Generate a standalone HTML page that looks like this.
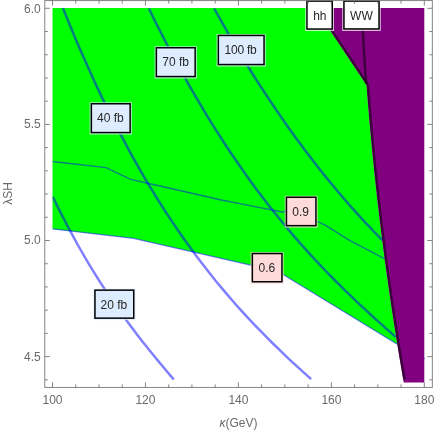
<!DOCTYPE html>
<html><head><meta charset="utf-8"><style>html,body{margin:0;padding:0;background:#fff;}svg{display:block;will-change:transform;}text{font-family:"Liberation Sans",sans-serif;}</style></head><body>
<svg width="436" height="433" viewBox="0 0 436 433">
<rect width="436" height="433" fill="#fff"/>
<polygon fill="#00ff00" points="52.50,8.00 315.14,8.00 366.50,85.00 367.11,93.00 367.99,103.93 368.90,114.85 369.85,125.78 370.85,136.70 371.88,147.63 372.95,158.56 374.07,169.48 375.22,180.41 376.41,191.33 377.64,202.26 378.92,213.19 380.23,224.11 381.58,235.04 382.97,245.97 384.41,256.89 385.88,267.82 387.39,278.74 388.94,289.67 390.53,300.60 392.16,311.52 393.83,322.45 395.55,333.37 397.30,344.30 277.80,271.30 133.50,238.30 52.50,228.90"/>
<polygon fill="#800080" points="315.14,8.00 366.50,85.00 367.11,93.00 367.99,103.93 368.90,114.85 369.85,125.78 370.85,136.70 371.88,147.63 372.95,158.56 374.07,169.48 375.22,180.41 376.41,191.33 377.64,202.26 378.92,213.19 380.23,224.11 381.58,235.04 382.97,245.97 384.41,256.89 385.88,267.82 387.39,278.74 388.94,289.67 390.53,300.60 392.16,311.52 393.83,322.45 395.55,333.37 397.30,344.30 398.23,350.00 399.57,358.15 400.94,366.30 402.34,374.45 403.75,382.60 424.30,382.60 424.30,8.00"/>
<clipPath id="pc"><rect x="52.5" y="8" width="371.8" height="380"/></clipPath><g clip-path="url(#pc)">
<path d="M52.5 228.9 L133.5 238.3 L277.8 271.3 L397.3 344.3" fill="none" stroke="#0000ff" stroke-width="1.3" stroke-opacity="0.5" />
<path d="M52.5 161.5 L106.0 167.6 L130.5 179.4 L160.0 186.0 L221.3 200.0 L250.0 205.6 L283.3 212.2 L285.7 210.3" fill="none" stroke="#0000ff" stroke-width="1.3" stroke-opacity="0.5" />
<path d="M316.7 221.0 L326.0 225.6 L350.0 240.6 L384.9 258.8" fill="none" stroke="#0000ff" stroke-width="1.3" stroke-opacity="0.5" />
<path d="M52.8 196.8 L55.9 203.1 L59.0 209.4 L62.1 215.5 L65.2 221.5 L68.3 227.4 L71.4 233.2 L74.5 238.9 L77.6 244.5 L80.7 250.0 L83.8 255.3 L86.9 260.6 L90.0 265.8 L93.1 270.9 L96.2 275.9 L99.3 280.8 L102.4 285.6 L105.5 290.3 L108.6 295.0 L111.7 299.6 L114.9 304.1 L118.0 308.6 L121.1 312.9 L124.2 317.2 L127.3 321.5 L130.4 325.7 L133.5 329.8 L136.6 333.9 L139.7 337.9 L142.8 341.9 L145.9 345.8 L149.0 349.7 L152.1 353.5 L155.2 357.3 L158.3 361.1 L161.4 364.8 L164.5 368.5 L167.6 372.2 L170.7 375.9 L173.8 379.5" fill="none" stroke="#0000ff" stroke-width="2.5" stroke-opacity="0.5" stroke-linejoin="round"/>
<path d="M62.9 8.0 L69.3 23.7 L75.6 38.9 L82.0 53.7 L88.4 68.1 L94.7 82.0 L101.1 95.6 L107.4 108.7 L113.8 121.4 L120.2 133.7 L126.5 145.7 L132.9 157.3 L139.3 168.6 L145.6 179.6 L152.0 190.2 L158.4 200.5 L164.7 210.4 L171.1 220.1 L177.5 229.6 L183.8 238.7 L190.2 247.6 L196.5 256.2 L202.9 264.6 L209.3 272.7 L215.6 280.7 L222.0 288.4 L228.4 295.9 L234.7 303.2 L241.1 310.3 L247.5 317.3 L253.8 324.1 L260.2 330.7 L266.6 337.2 L272.9 343.5 L279.3 349.7 L285.6 355.8 L292.0 361.8 L298.4 367.7 L304.7 373.4 L311.1 379.1" fill="none" stroke="#0000ff" stroke-width="2.5" stroke-opacity="0.5" stroke-linejoin="round"/>
<path d="M148.9 8.6 L155.2 21.5 L161.6 34.0 L167.9 46.3 L174.2 58.2 L180.6 69.9 L186.9 81.3 L193.2 92.4 L199.6 103.2 L205.9 113.8 L212.2 124.1 L218.6 134.2 L224.9 144.0 L231.2 153.5 L237.6 162.8 L243.9 171.9 L250.2 180.8 L256.6 189.4 L262.9 197.8 L269.2 206.0 L275.6 214.0 L281.9 221.8 L288.2 229.4 L294.6 236.9 L300.9 244.1 L307.2 251.2 L313.6 258.1 L319.9 264.9 L326.2 271.5 L332.6 278.0 L338.9 284.4 L345.2 290.6 L351.6 296.7 L357.9 302.8 L364.2 308.7 L370.6 314.5 L376.9 320.3 L383.2 325.9 L389.6 331.6 L395.9 337.1" fill="none" stroke="#0000ff" stroke-width="2.5" stroke-opacity="0.5" stroke-linejoin="round"/>
<path d="M214.2 8.5 L218.5 16.2 L222.8 23.9 L227.1 31.4 L231.5 38.9 L235.8 46.2 L240.1 53.4 L244.4 60.5 L248.7 67.5 L253.0 74.5 L257.3 81.3 L261.6 88.0 L266.0 94.6 L270.3 101.1 L274.6 107.5 L278.9 113.9 L283.2 120.1 L287.5 126.2 L291.8 132.3 L296.1 138.3 L300.5 144.1 L304.8 149.9 L309.1 155.6 L313.4 161.2 L317.7 166.8 L322.0 172.2 L326.3 177.6 L330.6 182.8 L335.0 188.0 L339.3 193.2 L343.6 198.2 L347.9 203.2 L352.2 208.1 L356.5 212.9 L360.8 217.7 L365.1 222.3 L369.5 226.9 L373.8 231.5 L378.1 235.9 L382.4 240.3" fill="none" stroke="#0000ff" stroke-width="2.5" stroke-opacity="0.5" stroke-linejoin="round"/>
</g>
<path d="M316.2 7.3 L366.9 83.3 L367.8 84.9 L368.6 95.1 L369.4 105.2 L370.3 115.4 L371.1 125.6 L372.1 135.7 L373.0 145.9 L374.0 156.1 L375.0 166.2 L376.1 176.4 L377.2 186.6 L378.3 196.8 L379.5 206.9 L380.7 217.1 L381.9 227.3 L383.2 237.4 L384.5 247.6 L385.8 257.8 L387.2 267.9 L388.6 278.1 L390.1 288.3 L391.5 298.4 L393.0 308.6 L394.6 318.8 L396.2 328.9 L397.8 339.1 L399.4 349.3 L401.1 359.4 L402.8 369.6 L404.6 379.8" fill="none" stroke="#000000" stroke-width="2.6" stroke-opacity="0.52" stroke-linejoin="round"/>
<path d="M360.8 8.0 L363.1 35.0 L364.8 65.0 L366.3 84.0" fill="none" stroke="#000000" stroke-width="2.5" stroke-opacity="0.5" />
<text x="52.5" y="403.6" font-size="12" fill="#6a6a6a" text-anchor="middle">100</text>
<text x="145.4" y="403.6" font-size="12" fill="#6a6a6a" text-anchor="middle">120</text>
<text x="238.4" y="403.6" font-size="12" fill="#6a6a6a" text-anchor="middle">140</text>
<text x="331.4" y="403.6" font-size="12" fill="#6a6a6a" text-anchor="middle">160</text>
<text x="424.3" y="403.6" font-size="12" fill="#6a6a6a" text-anchor="middle">180</text>
<text x="40.7" y="12.8" font-size="12" fill="#6a6a6a" text-anchor="end">6.0</text>
<text x="40.7" y="128.4" font-size="12" fill="#6a6a6a" text-anchor="end">5.5</text>
<text x="40.7" y="244.3" font-size="12" fill="#6a6a6a" text-anchor="end">5.0</text>
<text x="40.7" y="360.6" font-size="12" fill="#6a6a6a" text-anchor="end">4.5</text>
<text x="238.5" y="427.2" font-size="12" fill="#6a6a6a" text-anchor="middle"><tspan font-style="italic">κ</tspan>(GeV)</text>
<text transform="translate(11.9,193.5) rotate(-90)" font-size="12" fill="#6a6a6a" text-anchor="middle">λSH</text>
<rect x="423.9" y="357.6" width="0.9" height="1.8" fill="#5533cc" fill-opacity="0.6"/>
<rect x="91.35" y="104.00" width="38.80" height="28.80" fill="#deecff" stroke="#deecff" stroke-opacity="0.75" stroke-width="3.50"/>
<rect x="91.35" y="103.75" width="38.80" height="28.80" fill="#deecff" stroke="#000" stroke-width="1.50"/>
<text x="110.35" y="121.90" font-size="12" fill="#262626" text-anchor="middle">40 fb</text>
<rect x="156.35" y="48.00" width="38.80" height="28.80" fill="#deecff" stroke="#deecff" stroke-opacity="0.75" stroke-width="3.50"/>
<rect x="156.35" y="47.75" width="38.80" height="28.80" fill="#deecff" stroke="#000" stroke-width="1.50"/>
<text x="175.65" y="65.70" font-size="12" fill="#262626" text-anchor="middle">70 fb</text>
<rect x="218.35" y="35.70" width="45.70" height="29.10" fill="#deecff" stroke="#deecff" stroke-opacity="0.75" stroke-width="3.50"/>
<rect x="218.35" y="35.45" width="45.70" height="29.10" fill="#deecff" stroke="#000" stroke-width="1.50"/>
<text x="240.60" y="54.00" font-size="12" fill="#262626" text-anchor="middle" textLength="32.1" lengthAdjust="spacing">100 fb</text>
<rect x="94.95" y="290.40" width="38.80" height="28.00" fill="#deecff" stroke="#deecff" stroke-opacity="0.75" stroke-width="3.50"/>
<rect x="94.95" y="290.15" width="38.80" height="28.00" fill="#deecff" stroke="#000" stroke-width="1.50"/>
<text x="113.95" y="308.50" font-size="12" fill="#262626" text-anchor="middle">20 fb</text>
<rect x="286.45" y="197.50" width="29.50" height="28.40" fill="#ffdada" stroke="#ffdada" stroke-opacity="0.75" stroke-width="3.50"/>
<rect x="286.45" y="197.25" width="29.50" height="28.40" fill="#ffdada" stroke="#000" stroke-width="1.50"/>
<text x="300.60" y="215.60" font-size="12" fill="#262626" text-anchor="middle">0.9</text>
<rect x="252.35" y="253.80" width="29.60" height="28.20" fill="#ffdada" stroke="#ffdada" stroke-opacity="0.75" stroke-width="3.50"/>
<rect x="252.35" y="253.55" width="29.60" height="28.20" fill="#ffdada" stroke="#000" stroke-width="1.50"/>
<text x="266.85" y="271.60" font-size="12" fill="#262626" text-anchor="middle">0.6</text>
<rect x="306.95" y="1.35" width="25.30" height="27.95" fill="#ffffff" stroke="#ffffff" stroke-opacity="0.75" stroke-width="3.50"/>
<rect x="306.95" y="1.10" width="25.30" height="27.95" fill="#ffffff" stroke="#000" stroke-width="1.50"/>
<text x="319.85" y="19.50" font-size="12" fill="#262626" text-anchor="middle">hh</text>
<rect x="343.95" y="1.35" width="35.10" height="27.85" fill="#ffffff" stroke="#ffffff" stroke-opacity="0.75" stroke-width="3.50"/>
<rect x="343.95" y="1.10" width="35.10" height="27.85" fill="#ffffff" stroke="#000" stroke-width="1.50"/>
<text x="361.45" y="19.50" font-size="12" fill="#262626" text-anchor="middle">WW</text>
<rect x="44.8" y="0.6" width="387.5" height="386.8" fill="none" stroke="#777777" stroke-width="0.9"/>
<path d="M52.50 387.40V382.40M52.50 0.60V5.60M75.74 387.40V384.40M75.74 0.60V3.60M98.97 387.40V384.40M98.97 0.60V3.60M122.21 387.40V384.40M122.21 0.60V3.60M145.45 387.40V382.40M145.45 0.60V5.60M168.69 387.40V384.40M168.69 0.60V3.60M191.93 387.40V384.40M191.93 0.60V3.60M215.16 387.40V384.40M215.16 0.60V3.60M238.40 387.40V382.40M238.40 0.60V5.60M261.64 387.40V384.40M261.64 0.60V3.60M284.88 387.40V384.40M284.88 0.60V3.60M308.11 387.40V384.40M308.11 0.60V3.60M331.35 387.40V382.40M331.35 0.60V5.60M354.59 387.40V384.40M354.59 0.60V3.60M377.82 387.40V384.40M377.82 0.60V3.60M401.06 387.40V384.40M401.06 0.60V3.60M424.30 387.40V382.40M424.30 0.60V5.60M44.80 379.82H47.80M432.30 379.82H429.30M44.80 356.60H49.80M432.30 356.60H427.30M44.80 333.38H47.80M432.30 333.38H429.30M44.80 310.16H47.80M432.30 310.16H429.30M44.80 286.94H47.80M432.30 286.94H429.30M44.80 263.72H47.80M432.30 263.72H429.30M44.80 240.50H49.80M432.30 240.50H427.30M44.80 217.28H47.80M432.30 217.28H429.30M44.80 194.06H47.80M432.30 194.06H429.30M44.80 170.84H47.80M432.30 170.84H429.30M44.80 147.62H47.80M432.30 147.62H429.30M44.80 124.40H49.80M432.30 124.40H427.30M44.80 101.18H47.80M432.30 101.18H429.30M44.80 77.96H47.80M432.30 77.96H429.30M44.80 54.74H47.80M432.30 54.74H429.30M44.80 31.52H47.80M432.30 31.52H429.30M44.80 8.30H49.80M432.30 8.30H427.30" fill="none" stroke="#666" stroke-width="0.8"/>
</svg></body></html>
